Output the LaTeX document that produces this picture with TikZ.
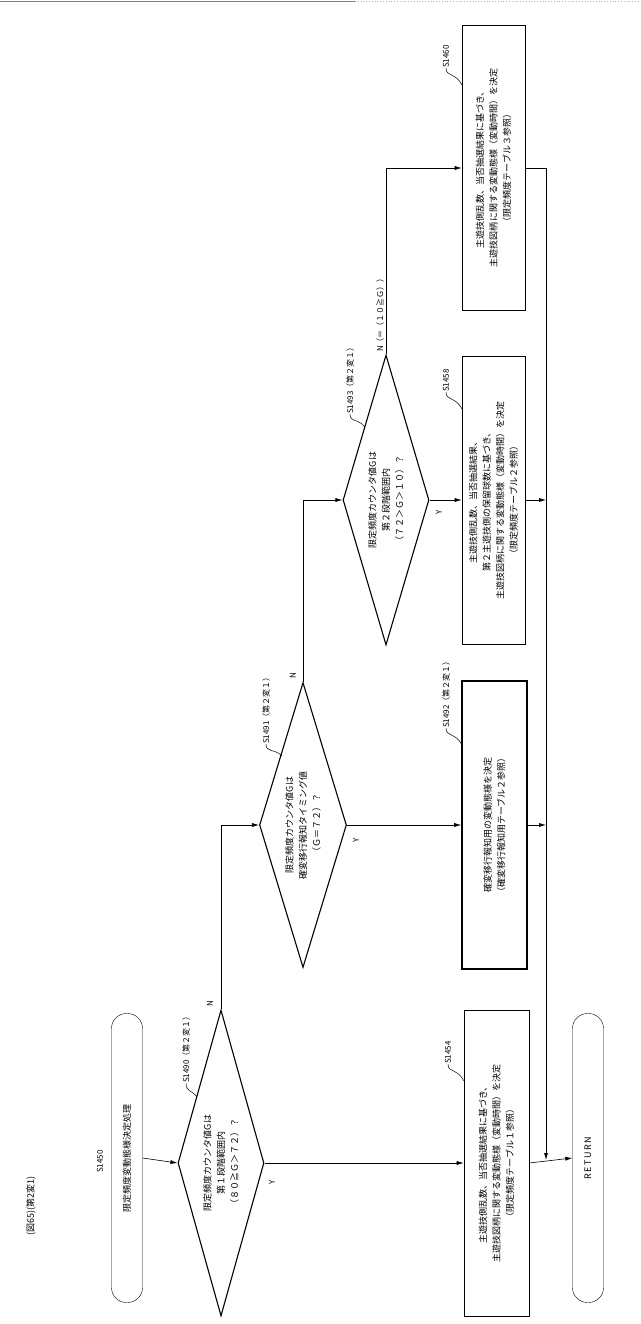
\documentclass[tikz,border=0pt]{standalone}
\usepackage{fontspec}
\setmainfont{Noto Sans CJK JP}
\usetikzlibrary{shapes.geometric,arrows.meta}

\tikzset{
  flowbox/.style={draw, rotate=90, line width=0.6pt, minimum height=63pt, align=center, inner sep=2pt, font=\fontsize{9}{13.5}\selectfont},
  decide/.style={draw, diamond, rotate=90, line width=1.1pt, inner sep=0pt, aspect=3.5, align=center, font=\fontsize{9}{13.5}\selectfont},
  term/.style={draw, rounded corners=15pt, rotate=90, minimum width=289pt, minimum height=31pt, font=\fontsize{9}{11}\selectfont},
  steplabel/.style={rotate=90, anchor=west, inner sep=0pt, font=\fontsize{8}{9}\selectfont},
  yn/.style={rotate=90, inner sep=0pt, font=\fontsize{8}{9}\selectfont},
  arr/.style={-{Latex[length=7pt,width=4pt]}, line width=0.6pt},
  leader/.style={line width=0.5pt}
}

\begin{document}
\begin{tikzpicture}[x=1pt,y=-1pt]
  \useasboundingbox (0,0) rectangle (640,1324);

  % page rule at the top
  \draw[line width=0.8pt, gray] (0,1.5) -- (355,1.5);
  \draw[line width=0.8pt, gray!60, dotted] (355,1.5) -- (640,1.5);

  % title
  \node[steplabel, font=\fontsize{9}{10}\selectfont] (title) at (31,1236) {(図65)(第2変1)};

  % start / return
  \node[term] (start) at (127,1158) {限定頻度変動態様決定処理};
  \node[term] (ret) at (588,1158) {R\,E\,T\,U\,R\,N};

  % decisions
  \node[decide, minimum width=306pt, minimum height=86pt] (d1490) at (221,1163)
    {限定頻度カウンタ値Gは\\第１段階範囲内\\（８０≧Ｇ＞７２）？};
  \node[decide, minimum width=285pt, minimum height=87pt] (d1491) at (303,825)
    {限定頻度カウンタ値Gは\\確変移行報知タイミング値\\（Ｇ＝７２）？};
  \node[decide, minimum width=290pt, minimum height=86pt] (d1493) at (386,500)
    {限定頻度カウンタ値Gは\\第２段階範囲内\\（７２＞Ｇ＞１０）？};

  % processes
  \node[flowbox, minimum width=285pt] (b1460) at (493.5,168)
    {主遊技側乱数、当否抽選結果に基づき、\\主遊技図柄に関する変動態様（変動時間）を決定\\（限定頻度テーブル３参照）};
  \node[flowbox, minimum width=288pt] (b1458) at (493.5,500)
    {主遊技側乱数、当否抽選結果、\\第２主遊技側の保留球数に基づき、\\主遊技図柄に関する変動態様（変動時間）を決定\\（限定頻度テーブル２参照）};
  \node[flowbox, minimum width=288pt, line width=1.6pt, minimum height=65pt] (b1492) at (494.5,825)
    {確変移行報知用の変動態様を決定\\（確変移行報知用テーブル２参照）};
  \node[flowbox, minimum width=306pt, minimum height=65pt] (b1454) at (496.5,1163)
    {主遊技側乱数、当否抽選結果に基づき、\\主遊技図柄に関する変動態様（変動時間）を決定\\（限定頻度テーブル１参照）};

  % step labels
  \node[steplabel] (l1450) at (100,1173) {S1450};
  \node[steplabel] (l1490) at (186,1083) {S1490（第２変１）};
  \node[steplabel] (l1491) at (266,744) {S1491（第２変１）};
  \node[steplabel] (l1493) at (350,414) {S1493（第２変１）};
  \node[steplabel] (l1492) at (446,728) {S1492（第２変１）};
  \node[steplabel] (l1458) at (446,392) {S1458};
  \node[steplabel] (l1460) at (446,68) {S1460};
  \node[steplabel] (l1454) at (448,1064) {S1454};

  \draw[leader] (l1490.west) .. controls (186,1092) and (192,1090) .. (197,1097);
  \draw[leader] (l1491.west) .. controls (266,753) and (274,748) .. (282,756);
  \draw[leader] (l1493.west) .. controls (350,423) and (358,418) .. (365,427);
  \draw[leader] (l1492.west) .. controls (446,737) and (455,732) .. (462,745);
  \draw[leader] (l1458.west) .. controls (446,401) and (455,396) .. (462,409);
  \draw[leader] (l1460.west) .. controls (446,77) and (455,72) .. (462,85);
  \draw[leader] (l1454.west) .. controls (448,1073) and (457,1068) .. (464,1081);

  % flow
  \draw[arr] (start.south) -- (d1490.north);
  \draw[arr] (d1490.south) -- (b1454.north);
  \draw[arr] (d1490.east) |- (d1491.north);
  \draw[arr] (d1491.south) -- (b1492.north);
  \draw[arr] (d1491.east) |- (d1493.north);
  \draw[arr] (d1493.south) -- (b1458.north);
  \draw[arr] (d1493.east) |- (b1460.north);

  % merge
  \coordinate (mtop) at (546,168);
  \coordinate (mbot) at (546,1160);
  \draw[arr] (b1460.south) -- (mtop) -- (mbot);
  \draw[arr] (b1458.south) -- (b1458.south -| mtop);
  \draw[arr] (b1492.south) -- (b1492.south -| mtop);
  \draw[arr] (b1454.south) -- (ret.north);

  % branch labels
  \node[yn] (y1) at (272,1182) {Y};
  \node[yn] (n1) at (210,1004) {N};
  \node[yn] (y2) at (356,840) {Y};
  \node[yn] (n2) at (293,676) {N};
  \node[yn] (y3) at (439,512) {Y};
  \node[steplabel] (n3) at (380,352) {N（＝（１０≧Ｇ））};
\end{tikzpicture}
\end{document}
